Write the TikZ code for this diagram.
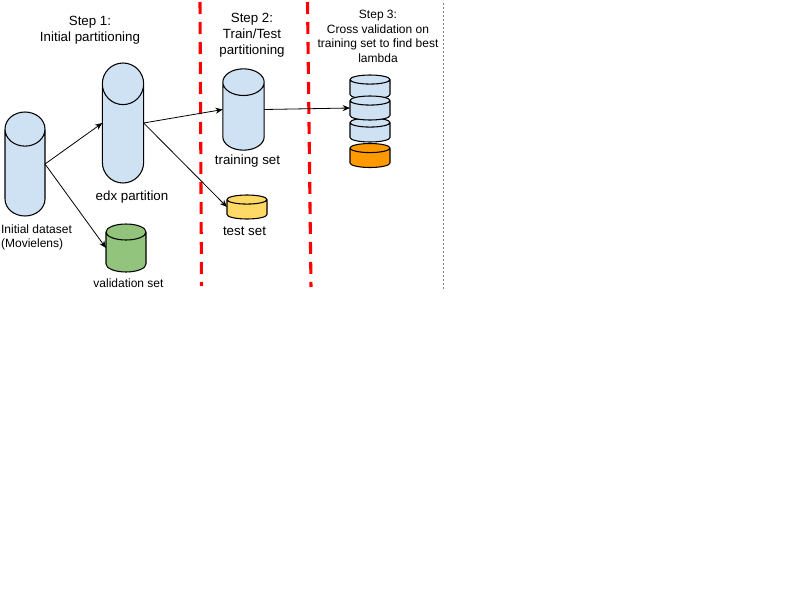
\documentclass[tikz,border=0pt]{standalone}
\usepackage{fontspec}
\setmainfont{Liberation Sans}
\usetikzlibrary{shapes.geometric, arrows.meta}

\definecolor{dbblue}{HTML}{CFE2F3}
\definecolor{dbgreen}{HTML}{93C47D}
\definecolor{dbyellow}{HTML}{FFD966}
\definecolor{dborange}{HTML}{FF9900}
\tikzset{
	db/.style = {cylinder, shape border rotate = 90, draw, line width = 0.8pt, inner sep = 4pt, outer sep = 0pt, minimum width = 30pt, anchor = shape center},
	blue db/.style = {db, fill = dbblue},
	disk/.style = {minimum height = 18pt, shape aspect = 0.85},
	link/.style = {-{Stealth[length = 5.5pt, width = 4.5pt]}, line width = 0.6pt},
	split/.style = {red, line width = 2.3pt, dash pattern = on 9pt off 6pt},
	big/.style = {font = \fontsize{10}{12}\selectfont, align = center},
	small/.style = {font = \fontsize{9}{10.9}\selectfont, align = center}
}

\begin{document}
\begin{tikzpicture}[x = 0.75pt, y = -0.75pt]
	\useasboundingbox (0, 0) rectangle (800, 600);

	\coordinate (split a top) at (200, 2);
	\coordinate (split a end) at (201.5, 286);
	\coordinate (split b top) at (307.5, 2);
	\coordinate (split b end) at (311, 287);
	\coordinate (edge top) at (443, 3);
	\coordinate (edge end) at (443, 290);
	\draw[split] (split a top) -- (split a end);
	\draw[split] (split b top) -- (split b end);
	\draw[gray, dash pattern = on 1.5pt off 1.5pt, line width = 0.7pt] (edge top) -- (edge end);

	\node[blue db, minimum height = 78pt, shape aspect = 3.2] (initial) at (25, 164) {};
	\node[blue db, minimum height = 90pt, minimum width = 31pt, shape aspect = 3.9] (edx) at (123, 123) {};
	\node[db, fill = dbgreen, minimum height = 36pt, shape aspect = 1.5] (validation) at (126, 248) {};
	\node[blue db, minimum height = 61pt, minimum width = 31pt, shape aspect = 2.5] (training) at (243.5, 109.5) {};
	\node[db, disk, fill = dbyellow] (test) at (247, 207) {};

	\node[blue db, disk] (fold three) at (370, 130) {};
	\node[blue db, disk] (fold one) at (370, 87) {};
	\node[blue db, disk] (fold two) at (370, 108) {};
	\node[db, disk, fill = dborange] (fold four) at (370, 155.5) {};

	\draw[link] (initial.east |- initial.shape center) -- (edx.west |- edx.shape center);
	\draw[link] (initial.east |- initial.shape center) -- (validation.west |- validation.shape center);
	\draw[link] (edx.east |- edx.shape center) -- (training.west |- training.shape center);
	\draw[link] (edx.east |- edx.shape center) -- (test.west |- test.shape center);
	\draw[link] (training.east |- training.shape center) -- (fold two.west |- fold two.shape center);

	\node[big] (step one) at (90, 30) {Step 1:\\Initial partitioning};
	\node[big] (step two) at (252, 35) {Step 2:\\Train/Test\\partitioning};
	\node[small] (step three) at (378, 36.5) {Step 3:\\Cross validation on\\training set to find best\\lambda};

	\node[big] (edx label) at (132, 197) {edx partition};
	\node[big] (training label) at (247.5, 161) {training set};
	\node[big] (test label) at (244.5, 231) {test set};
	\node[small] (validation label) at (128.5, 283.5) {validation set};
	\node[small, align = left] (initial label) at (36.5, 237.5) {Initial dataset\\(Movielens)};
\end{tikzpicture}
\end{document}
